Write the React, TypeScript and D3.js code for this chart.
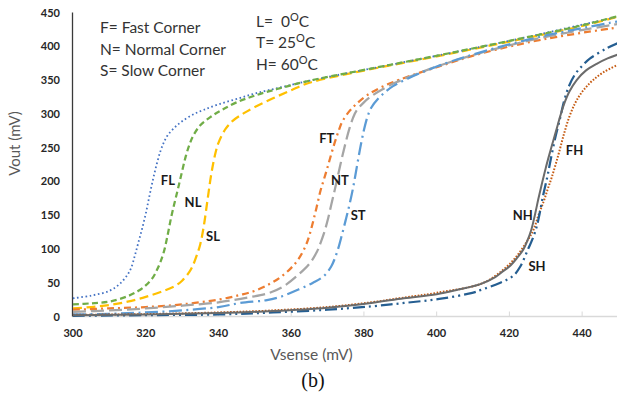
import React, { useRef, useEffect } from 'react';
import * as d3 from 'd3';

type Pt = [number, number];

// Vsense (mV) vs Vout (mV)
const fastLow: Pt[] = [
  [300, 27], [305, 31], [310, 38], [313, 49], [315, 62], [316, 72], [317, 90], [318, 110],
  [319, 130], [320, 152], [321, 178], [322, 203], [323, 225], [324, 244], [325, 258], [326, 268],
  [328, 280], [330, 289], [333, 299], [336, 306], [340, 314], [345, 322], [350, 330], [357, 339],
  [365, 349], [380, 365], [400, 386], [420, 408], [440, 432], [450, 444],
];
const normalLow: Pt[] = [
  [300, 18], [305, 19.5], [310, 22], [315, 30], [318, 38], [320, 46], [322, 58], [323, 68],
  [324, 80], [325, 96], [326, 120], [327, 147], [328, 170], [329, 192], [330, 215], [331, 237],
  [332, 254], [333, 267], [335, 283], [338, 296], [341, 306], [345, 317], [350, 327], [357, 338],
  [365, 349], [380, 365], [400, 386], [420, 408], [440, 431], [450, 445],
];
const slowLow: Pt[] = [
  [300, 12], [305, 14], [310, 17], [315, 22], [320, 29], [325, 38], [328, 45], [330, 53],
  [332, 66], [333, 76], [334, 90], [335, 107], [336, 135], [337, 173], [338, 210], [339, 238],
  [340, 257], [342, 278], [344, 290], [347, 301], [350, 310], [355, 323], [360, 335], [365, 346],
  [380, 364], [400, 385], [420, 407], [440, 430], [450, 444],
];
const fastTyp: Pt[] = [
  [300, 10], [310, 12], [320, 14], [330, 18], [340, 25], [346, 32], [350, 38], [354, 48],
  [357, 58], [360, 72], [362, 85], [364, 105], [365, 120], [366, 140], [367, 162], [368, 185],
  [369, 203], [370, 221], [371, 240], [372, 258], [373, 274], [374, 288], [376, 304], [378, 315],
  [381, 328], [385, 340], [390, 351], [400, 369], [412, 389], [430, 411], [450, 428],
];
const normalTyp: Pt[] = [
  [300, 7], [310, 9], [320, 12], [330, 16], [340, 21], [348, 28], [354, 35], [358, 45],
  [362, 62], [365, 78], [367, 95], [368, 108], [369, 123], [370, 142], [371, 165], [372, 188],
  [373, 212], [374, 236], [375, 258], [376, 278], [377, 294], [378, 305], [380, 317], [382, 326],
  [385, 336], [389, 347], [395, 360], [400, 370], [412, 390], [430, 414], [450, 433],
];
const slowTyp: Pt[] = [
  [300, 3], [310, 4], [320, 6], [330, 9], [340, 14], [346, 20], [353, 24], [357, 29],
  [362, 40], [366, 50], [369, 60], [371, 74], [372, 86], [373, 102], [374, 122], [375, 143],
  [376, 165], [377, 190], [378, 220], [379, 250], [380, 276], [381, 296], [382, 309], [384, 323],
  [386, 333], [388, 341], [392, 352], [400, 370], [412, 391], [430, 416], [450, 437],
];
const normalHigh: Pt[] = [
  [300, 2], [320, 3], [340, 5], [355, 8], [370, 13], [382, 20], [391, 27], [400, 33],
  [406, 40], [412, 48], [416, 58], [418, 66], [420, 74], [422, 86], [423.8, 99], [425, 113],
  [426, 128], [427, 150], [428, 175], [429, 198], [430, 220], [431, 240], [432, 259],
  [433, 278], [434, 297], [435, 314], [436.5, 333], [438.5, 350], [441, 364], [444, 374],
  [447, 382], [450, 388],
];
const slowHigh: Pt[] = [
  [300, 1], [320, 2], [340, 3], [355, 6], [370, 10], [382, 15], [391, 20], [400.7, 26],
  [409.8, 35], [412, 39], [417.5, 50], [421, 60], [423, 74], [425, 98], [426.6, 118], [427.6, 135],
  [428.3, 152], [429.3, 180], [430.4, 206], [431.2, 228], [432.5, 262], [434, 295], [435, 318],
  [436.3, 340], [438, 358], [440, 371], [442.2, 382], [446.8, 397], [450, 405],
];
const fastHigh: Pt[] = [
  [300, 2.5], [320, 3.5], [340, 6], [355, 9], [370, 14], [382, 21], [391, 28], [400, 35],
  [412, 48], [416.6, 62], [421.2, 84], [424.8, 111], [426.6, 128], [428, 150], [429.4, 170],
  [430.5, 188], [431.7, 207], [433.5, 240], [435, 270], [436.5, 296], [438, 315], [439.4, 328],
  [441, 339], [443, 350], [446, 362], [450, 373],
];

const xTicks = [300, 320, 340, 360, 380, 400, 420, 440];
const yTicks = [0, 50, 100, 150, 200, 250, 300, 350, 400, 450];

const cornerNotes = ['F= Fast Corner', 'N= Normal Corner', 'S= Slow Corner'];
const tempNotes = [['L=  0', 'C'], ['T= 25', 'C'], ['H= 60', 'C']];

// curve label anchors in data units
const curveLabels: [string, number, number][] = [
  ['FL', 326.1, 202], ['NL', 333.0, 169], ['SL', 338.5, 119],
  ['FT', 369.8, 264], ['NT', 373.4, 202], ['ST', 378.4, 150],
  ['NH', 423.7, 150], ['SH', 427.6, 75], ['FH', 437.9, 246],
];

const W = 617;
const H = 394;

const App = () => {
  const svgRef = useRef<SVGSVGElement>(null);

  useEffect(() => {
    const svg = d3.select(svgRef.current);
    svg.selectAll('*').remove();

    const x = d3.scaleLinear().domain([300, 450]).range([73, 618.5]);
    const y = d3.scaleLinear().domain([0, 450]).range([316.5, 12.5]);

    const sans = 'Lato, "Open Sans", sans-serif';

    svg.append('defs').append('clipPath').attr('id', 'plot')
      .append('rect').attr('x', 72).attr('y', 0).attr('width', W - 72).attr('height', 318);

    // x axis (light gray, ticks pointing up)
    svg.append('line')
      .attr('x1', 72).attr('x2', W).attr('y1', y(0)).attr('y2', y(0))
      .attr('stroke', '#d9d9d9').attr('stroke-width', 1.5);
    svg.selectAll('.xtick').data(xTicks.slice(1)).enter().append('line')
      .attr('x1', d => x(d)).attr('x2', d => x(d))
      .attr('y1', y(0)).attr('y2', y(0) - 5)
      .attr('stroke', '#d9d9d9').attr('stroke-width', 1);
    svg.selectAll('.xlab').data(xTicks).enter().append('text')
      .attr('x', d => x(d)).attr('y', 337)
      .attr('text-anchor', 'middle')
      .attr('font-family', sans).attr('font-weight', 'bold').attr('font-size', 11)
      .attr('fill', '#262626')
      .text(d => d);

    // y axis
    svg.append('line')
      .attr('x1', 72.5).attr('x2', 72.5).attr('y1', y(450)).attr('y2', y(0))
      .attr('stroke', '#3a3a3a').attr('stroke-width', 1.3);
    svg.selectAll('.ylab').data(yTicks).enter().append('text')
      .attr('x', 60).attr('y', d => y(d) + 4)
      .attr('text-anchor', 'end')
      .attr('font-family', sans).attr('font-weight', 'bold').attr('font-size', 11)
      .attr('fill', '#262626')
      .text(d => d);

    // curves
    const series = [
      { data: slowLow, color: '#FFC000', width: 2.25, dash: '9 4.5' },
      { data: fastLow, color: '#4472C4', width: 1.8, dash: '1.6 2.6' },
      { data: normalLow, color: '#70AD47', width: 2.25, dash: '6 3.5' },
      { data: fastTyp, color: '#ED7D31', width: 2.25, dash: '7 4 2 4' },
      { data: normalTyp, color: '#A5A5A5', width: 2.25, dash: '13 5' },
      { data: slowTyp, color: '#5B9BD5', width: 2.25, dash: '13 4.5 2 4.5' },
      { data: fastHigh, color: '#C55A11', width: 2, dash: '1.6 1.6' },
      { data: slowHigh, color: '#255E91', width: 2.25, dash: '12 4 2 4 2 4' },
      { data: normalHigh, color: '#6b6b6b', width: 2, dash: null },
    ];

    const line = d3.line<Pt>()
      .x(d => x(d[0]))
      .y(d => y(d[1]))
      .curve(d3.curveCatmullRom.alpha(0.5));

    const g = svg.append('g').attr('clip-path', 'url(#plot)');
    series.forEach(s => {
      g.append('path')
        .attr('d', line(s.data))
        .attr('fill', 'none')
        .attr('stroke', s.color)
        .attr('stroke-width', s.width)
        .attr('stroke-dasharray', s.dash);
    });

    // curve labels
    svg.selectAll('.clab').data(curveLabels).enter().append('text')
      .attr('x', d => x(d[1])).attr('y', d => y(d[2]))
      .attr('text-anchor', 'middle').attr('dominant-baseline', 'central')
      .attr('font-family', sans).attr('font-weight', 'bold').attr('font-size', 13)
      .attr('fill', '#1a1a1a')
      .text(d => d[0]);

    // notes
    svg.selectAll('.note').data(cornerNotes).enter().append('text')
      .attr('x', 100).attr('y', (d, i) => 33 + i * 21.5)
      .attr('font-family', sans).attr('font-size', 15.5).attr('fill', '#333')
      .text(d => d);

    const temps = svg.selectAll('.temp').data(tempNotes).enter().append('text')
      .attr('x', 256).attr('y', (d, i) => 27 + i * 21.3)
      .attr('font-family', sans).attr('font-size', 15.5).attr('fill', '#333')
      .style('white-space', 'pre');
    temps.append('tspan').text(d => d[0]);
    temps.append('tspan').attr('dy', -6).attr('font-size', 11).text('O');
    temps.append('tspan').attr('dy', 6).text(d => d[1]);

    // axis titles
    svg.append('text')
      .attr('transform', 'translate(20,143.5) rotate(-90)')
      .attr('text-anchor', 'middle')
      .attr('font-family', sans).attr('font-size', 15).attr('fill', '#595959')
      .text('Vout (mV)');
    svg.append('text')
      .attr('x', 311.5).attr('y', 360)
      .attr('text-anchor', 'middle')
      .attr('font-family', sans).attr('font-size', 15.5).attr('fill', '#595959')
      .text('Vsense (mV)');
    svg.append('text')
      .attr('x', 313).attr('y', 387)
      .attr('text-anchor', 'middle')
      .attr('font-family', '"Liberation Serif", "DejaVu Serif", serif').attr('font-size', 20)
      .attr('fill', '#111')
      .text('(b)');
  }, []);

  return (
    <svg ref={svgRef} width={W} height={H}
      style={{ position: 'absolute', left: 0, top: 0, background: '#fff' }} />
  );
};

export default App;
